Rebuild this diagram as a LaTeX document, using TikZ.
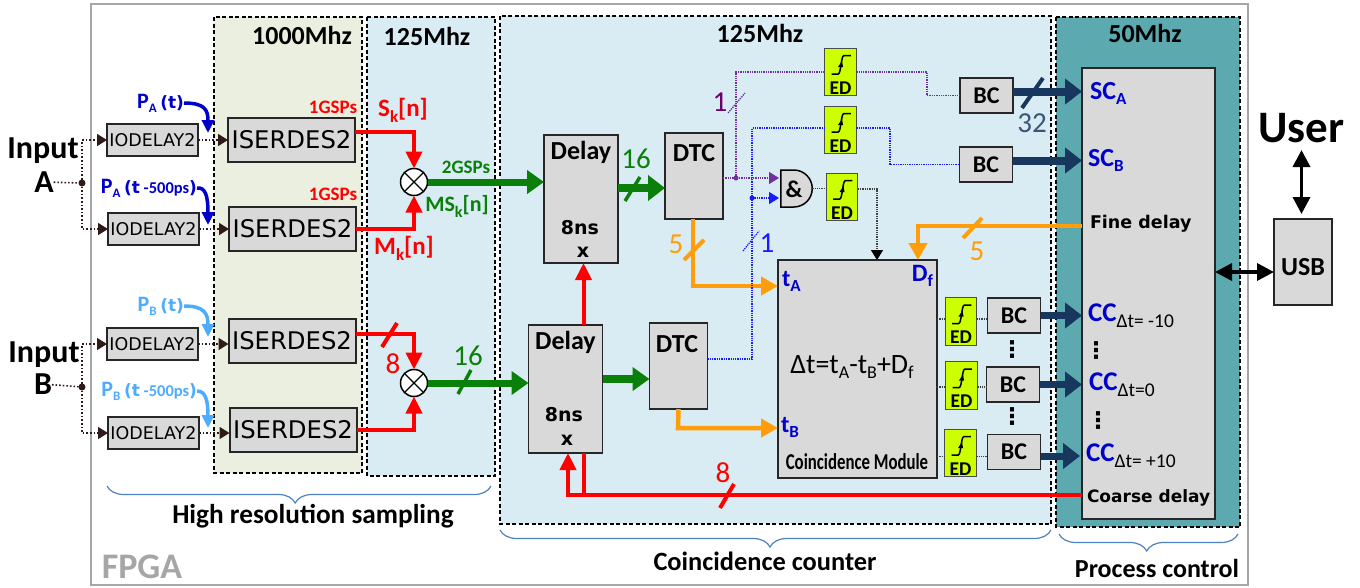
\documentclass[tikz,border=0pt]{standalone}
\usepackage{fontspec}
\usepackage{amsmath}
\usepackage{graphicx}
\setmainfont{Carlito}
\newfontfamily\vfont{DejaVu Sans}
\usetikzlibrary{arrows.meta,decorations.pathreplacing}
\newcommand{\fsz}[1]{\fontsize{#1}{#1}\selectfont}
\newcommand{\bsub}[2]{\textbf{#1}\raisebox{-5pt}{\fsz{17}\textbf{#2}}}
\newcommand{\lsub}[2]{#1\raisebox{-5pt}{\fsz{18}#2}}
\newcommand{\ccsub}[1]{\textcolor{txtblue}{\textbf{CC}}\raisebox{-6pt}{\fsz{19.5}#1}}
\newcommand{\edtxt}{\raisebox{-22pt}[0pt][0pt]{\fsz{19.5}\textbf{ED}}}
\newcommand{\edsym}[1]{\draw[edcurve,shift={(#1.center)}] (-9,2) -- (-2.3,2) .. controls (0.5,2) and (0.5,-16.3) .. (3.3,-16.3) -- (10.3,-16.3);
  \fill[black,shift={(#1.center)}] (-2.5,-5) -- (2.5,-5) -- (1.5,-11) -- cycle;}
\newcommand{\pulse}[3]{{\color{#1}\fsz{22}\textbf{P}\raisebox{-4pt}{\fsz{13}\textbf{#2}}\,{\vfont\fsz{17}\textbf{(t}}#3{\vfont\fsz{17}\textbf{)}}}}
\newcommand{\dotcol}{{\vfont\bfseries\fsz{23}⋮}}
\definecolor{zonea}{HTML}{EBEFDF}
\definecolor{zoneb}{HTML}{DAECF3}
\definecolor{zonec}{HTML}{5CA9B0}
\definecolor{boxgray}{HTML}{D9D9D9}
\definecolor{edlime}{HTML}{CCFF00}
\definecolor{fpgagray}{HTML}{A6A6A6}
\definecolor{sigred}{HTML}{FF0000}
\definecolor{siggreen}{HTML}{0A800A}
\definecolor{sigorange}{HTML}{FF9D0A}
\definecolor{signavy}{HTML}{17375E}
\definecolor{sigpurple}{HTML}{7030A0}
\definecolor{sigblue}{HTML}{1A1AFF}
\definecolor{txtblue}{HTML}{0000CC}
\definecolor{paleblue}{HTML}{4DACFF}
\definecolor{dotbrown}{HTML}{2F1A1A}
\definecolor{bracecol}{HTML}{4F81BD}

\begin{document}
\begin{tikzpicture}[x=1pt,y=-1pt,>=Triangle,node distance=139pt,
                    every node/.append style={inner sep=0pt,outer sep=0pt}]
  \useasboundingbox (0,0) rectangle (1360,587);
  \tikzstyle{panel}=[draw=black,line width=1.2pt,dash pattern=on 4pt off 2.5pt]
  \tikzstyle{graybox}=[draw=black!85,fill=boxgray,line width=1.5pt]
  \tikzstyle{ioblock}=[graybox,minimum width=91pt,minimum height=32pt,font=\vfont\fsz{17.5}]
  \tikzstyle{serblock}=[graybox,line width=2pt,minimum width=127pt,minimum height=44pt,font=\vfont\fsz{24.3}]
  \tikzstyle{delayblock}=[graybox,minimum width=74pt,minimum height=128pt]
  \tikzstyle{dtcblock}=[graybox,minimum width=58pt,minimum height=86pt]
  \tikzstyle{bcblock}=[graybox,minimum width=53pt,minimum height=35pt,font=\fsz{24}\bfseries]
  \tikzstyle{edblock}=[draw=black!70,fill=edlime,line width=1.3pt,minimum width=31.5pt,minimum height=47.5pt]
  \tikzstyle{edcurve}=[black,line width=1.5pt]
  \tikzstyle{mixer}=[circle,draw=black,fill=white,line width=1.5pt,minimum size=27pt,
                       path picture={\draw[black,line width=1.3pt,shift={(path picture bounding box.center)}]
                       (-10,-10) -- (10,10) (-10,10) -- (10,-10);}]
  \tikzstyle{dotdark}=[draw=dotbrown,line width=1.6pt,dotted]
  \tikzstyle{dotarrow}=[dotdark,-{Triangle[length=10pt,width=12pt]}]
  \tikzstyle{junction}=[circle,minimum size=7pt]
  \tikzstyle{redarrow}=[draw=sigred,line width=4pt,-{Triangle[length=17pt,width=16pt]},color=sigred]
  \tikzstyle{redline}=[draw=sigred,line width=4pt]
  \tikzstyle{greenarrow}=[draw=siggreen,line width=7pt,-{Triangle[length=17pt,width=23pt]},color=siggreen]
  \tikzstyle{greenline}=[draw=siggreen,line width=3.5pt]
  \tikzstyle{orangearrow}=[draw=sigorange,line width=4.5pt,-{Triangle[length=17pt,width=18pt]},color=sigorange]
  \tikzstyle{orangeline}=[draw=sigorange,line width=4pt]
  \tikzstyle{navyarrow}=[draw=signavy,line width=8pt,-{Triangle[length=17pt,width=25pt]},color=signavy]
  \tikzstyle{purpledots}=[draw=sigpurple,line width=1.3pt,densely dotted]
  \tikzstyle{bluedots}=[draw=sigblue,line width=1.3pt,densely dotted]
  \tikzstyle{greydots}=[draw=black!75,line width=1.3pt,densely dotted]
  \tikzstyle{dottip}=[-{Triangle[length=10pt,width=12pt]}]
  \tikzstyle{blackarrow}=[draw=black,fill=black,line width=3.5pt,{Triangle[length=17pt,width=17pt]}-{Triangle[length=17pt,width=17pt]}]
  \tikzstyle{bluecurve}=[draw=txtblue,line width=3.5pt,-{Triangle[length=13pt,width=12pt]},color=txtblue]
  \tikzstyle{palecurve}=[draw=paleblue,line width=3.5pt,-{Triangle[length=13pt,width=12pt]},color=paleblue]
  \tikzstyle{grouping}=[draw=bracecol,line width=1.2pt,decorate,decoration={brace,mirror,amplitude=17pt,aspect=0.49}]
  \tikzstyle{heading}=[font=\fsz{26}\bfseries]
  \tikzstyle{widthnum}=[font=\fsz{29}]

  \draw[fpgagray,line width=2.5pt] (91,4) rectangle (1248,585);
  \draw[panel,fill=zonea] (214,17) rectangle (362,473);
  \draw[panel,fill=zoneb] (367,17) rectangle (495,476);
  \draw[panel,fill=zoneb] (500,16) rectangle (1051,524);
  \draw[panel,fill=zonec] (1056,17) rectangle (1240,527);

  \node[heading] (hgsp) at (302,35) {1000Mhz};
  \node[heading] (hmixa) at (427,36) {125Mhz};
  \node[heading] (hcoin) at (760,33) {125Mhz};
  \node[heading] (hproc) at (1145,33) {50Mhz};
  \node[font=\fsz{36}\bfseries,text=fpgagray] (fpga) at (142,567) {FPGA};
  \node[font=\fsz{27.3}\bfseries] (hsamp) at (313,516) {High resolution sampling};
  \node[font=\fsz{26.4}\bfseries] (hcount) at (765,561) {Coincidence counter};
  \node[font=\fsz{26}\bfseries] (hctrl) at (1157,568) {Process control};

  \draw[grouping] (107,486) -- (491,486);
  \draw[grouping] (500,530) -- (1051,530);
  \draw[grouping] (1059,534) -- (1238,534);

  \node[font=\fsz{32}\bfseries] (inAt) at (43,151) {Input};
  \node[font=\fsz{32}\bfseries] (inA) at (44,182) {A};
  \node[font=\fsz{32}\bfseries] (inBt) at (44,355) {Input};
  \node[font=\fsz{32}\bfseries] (inB) at (43,384) {B};
  \node[junction,fill=dotbrown] (dotA) at (82,183) {};
  \node[junction,fill=dotbrown] (dotB) at (82,387) {};

  \node[ioblock] (ioA1) at (152.5,140) {IODELAY2};
  \node[ioblock] (ioA2) at (153.5,229) {IODELAY2};
  \node[ioblock] (ioB1) at (152.5,344) {IODELAY2};
  \node[ioblock] (ioB2) at (153.5,433) {IODELAY2};
  \node[serblock] (serA1) [right of=ioA1] {ISERDES2};
  \node[serblock] (serA2) [right of=ioA2] {ISERDES2};
  \node[serblock] (serB1) at (292,341) {ISERDES2};
  \node[serblock] (serB2) at (293,430) {ISERDES2};
  \node[mixer] (mulA) at (414,182) {};
  \node[mixer] (mulB) at (414,383) {};

  \node[delayblock] (delayA) at (581,199) {};
  \node[delayblock] (delayB) at (565.5,389) {};
  \node[dtcblock] (dtcA) at (694,176) {};
  \node[dtcblock] (dtcB) at (678.5,366) {};
  \node[font=\fsz{26}\bfseries] (delayAt) at (581,152) {Delay};
  \node[font=\fsz{26}\bfseries] (delayBt) at (565.5,342) {Delay};
  \node[font=\vfont\fsz{19}\bfseries] (nsA) at (580,228) {8ns};
  \node[font=\vfont\fsz{19}\bfseries] (nsB) at (564,415) {8ns};
  \node[font=\vfont\fsz{19}\bfseries] (xA) at (583,252) {x};
  \node[font=\vfont\fsz{19}\bfseries] (xB) at (567,440) {x};
  \node[font=\fsz{26}\bfseries] (dtcAt) at (694,153) {DTC};
  \node[font=\fsz{26}\bfseries] (dtcBt) at (677,344) {DTC};

  \node[edblock] (edA) at (840.5,72) {\edtxt}; \edsym{edA}
  \node[edblock] (edB) at (840.5,130) {\edtxt}; \edsym{edB}
  \node[edblock] (edC) at (842,197) {\edtxt}; \edsym{edC}
  \node[minimum width=31.5pt,minimum height=37pt] (andg) at (796.5,188.5) {};
  \draw[graybox,draw=black] (andg.north west) -- ++(13,0) arc (-90:90:18.5) -- (andg.south west) -- cycle;
  \node[font=\fsz{24}\bfseries] (andt) at (794,189) {\&};
  \node[bcblock] (bcA) at (986.5,95.5) {BC};
  \node[bcblock] (bcB) at (986,164.5) {BC};

  \node[graybox,minimum width=133pt,minimum height=451pt] (ctrl) at (1148.5,293.5) {};
  \node[graybox,minimum width=58pt,minimum height=86pt] (usb) at (1303,262) {};
  \node[font=\fsz{26}\bfseries] (usbt) at (1303,267) {USB};
  \node[font=\fsz{45}\bfseries] (user) at (1301.5,128) {User};

  \node[graybox,minimum width=159pt,minimum height=218pt] (coin) at (857.5,369) {};
  \node[edblock] (edD) at (961,321.5) {\edtxt}; \edsym{edD}
  \node[edblock] (edE) at (961.5,385.5) {\edtxt}; \edsym{edE}
  \node[edblock] (edF) at (960.5,453) {\edtxt}; \edsym{edF}
  \node[bcblock] (bcC) at (1014,315.5) {BC};
  \node[bcblock] (bcD) at (1013,384.5) {BC};
  \node[bcblock] (bcE) at (1014,452) {BC};

  \node[font=\fsz{28}] (dteq) at (852,367) {Δt=\lsub{t}{A}-\lsub{t}{B}+\lsub{D}{f}};
  \node[font=\fsz{16.8}\bfseries] (coinname) at (857,462) {\scalebox{1}[1.35]{Coincidence Module}};
  \node[text=txtblue,font=\fsz{24},anchor=west] (tA) at (782,281) {\bsub{t}{A}};
  \node[text=txtblue,font=\fsz{24},anchor=west] (tB) at (781,427) {\bsub{t}{B}};
  \node[text=txtblue,font=\fsz{25},anchor=east] (Df) at (933,276) {\bsub{D}{f}};

  \node[text=txtblue,font=\fsz{26},anchor=west] (scA) at (1090,93) {\bsub{SC}{A}};
  \node[text=txtblue,font=\fsz{26},anchor=west] (scB) at (1088,160) {\bsub{SC}{B}};
  \node[font=\vfont\fsz{17.5}\bfseries,anchor=west] (fine) at (1090,224) {Fine delay};
  \node[font=\vfont\fsz{17}\bfseries,anchor=west] (coarse) at (1087,498) {Coarse delay};
  \node[anchor=west,font=\fsz{27}] (ccA) at (1088,316) {\ccsub{Δt= -10}};
  \node[anchor=west,font=\fsz{27}] (ccB) at (1089,385) {\ccsub{Δt=0}};
  \node[anchor=west,font=\fsz{27}] (ccC) at (1086,456) {\ccsub{Δt= +10}};
  \node (vda) at (1012,350) {\dotcol};
  \node (vdb) at (1012,417) {\dotcol};
  \node (vdc) at (1096,351) {\dotcol};
  \node (vdd) at (1098,421) {\dotcol};

  \node[anchor=east] (pa) at (184,103) {\pulse{txtblue}{A}{}};
  \node[anchor=east] (pad) at (197,188) {\pulse{txtblue}{A}{\fsz{16.5}\textbf{ -500ps}}};
  \node[anchor=east] (pb) at (184,306) {\pulse{paleblue}{B}{}};
  \node[anchor=east] (pbd) at (197,391) {\pulse{paleblue}{B}{\fsz{16.5}\textbf{ -500ps}}};
  \coordinate (paend) at (208,133);
  \coordinate (padend) at (208,225);
  \coordinate (pbend) at (208,337);
  \coordinate (pbdend) at (208,428);

  \node[text=sigred,font=\fsz{19}\bfseries] (gspa) at (333,107) {1GSPs};
  \node[text=sigred,font=\fsz{19}\bfseries] (gspb) at (333,194) {1GSPs};
  \node[text=sigred,font=\fsz{25}\bfseries] (sk) at (403,110) {S\raisebox{-6pt}{\fsz{17}k}[n]};
  \node[text=sigred,font=\fsz{25}\bfseries] (mk) at (404,248) {M\raisebox{-6pt}{\fsz{17}k}[n]};
  \node[text=siggreen,font=\fsz{22}\bfseries] (msk) at (457,206) {MS\raisebox{-6pt}{\fsz{16}k}[n]};
  \node[text=siggreen,font=\fsz{19}\bfseries] (gspc) at (466,167) {2GSPs};

  \path (inA) edge[dotdark] (dotA)
        (inB) edge[dotdark] (dotB)
        (ioA1) edge[dotarrow] (serA1)
        (ioA2) edge[dotarrow] (serA2);
  \draw[dotarrow] (dotA) |- (ioA1.west);
  \draw[dotarrow] (dotA) |- (ioA2.west);
  \draw[dotarrow] (dotB) |- (ioB1.west);
  \draw[dotarrow] (dotB) |- (ioB2.west);
  \draw[dotarrow] (ioB1.east) -- (ioB1.east -| serB1.west);
  \draw[dotarrow] (ioB2.east) -- (ioB2.east -| serB2.west);
  \draw[bluecurve] (pa.east) .. controls (205,103) and (208,110) .. (paend);
  \draw[bluecurve] (pad.east) .. controls (205,187) and (208,195) .. (padend);
  \draw[palecurve] (pb.east) .. controls (205,306) and (208,314) .. (pbend);
  \draw[palecurve] (pbd.east) .. controls (205,391) and (208,399) .. (pbdend);

  \draw[redarrow] ([yshift=8pt]serA1.east) -| (mulA.north);
  \draw[redarrow] (serA2.east) -| (mulA.south);
  \draw[redarrow] ([yshift=7pt]serB1.east) -| (mulB.north);
  \draw[redarrow] (serB2.east) -| (mulB.south);
  \draw[redline] (382,347) -- (397,323);
  \node[widthnum,text=sigred] (wred) at (393,364) {8};

  \draw[greenarrow] (mulA.east) -- (mulA.east -| delayA.west);
  \draw[greenarrow] (mulB.east) -- (mulB.east -| delayB.west);
  \draw[greenline] (458,394) -- (471,370);
  \node[widthnum,text=siggreen] (wgreenb) at (468,356) {16};
  \draw[greenarrow,line width=8pt,-{Triangle[length=17pt,width=25pt]}] ([yshift=11pt]delayA.east) -- ([yshift=-12pt]dtcA.west);
  \draw[greenline] (625,201) -- (640,177);
  \node[widthnum,text=siggreen] (wgreena) at (636,159) {16};
  \draw[greenarrow,line width=8pt,-{Triangle[length=17pt,width=23pt]}] ([yshift=10pt]delayB.east) -- ([yshift=-13pt]dtcB.west);

  \draw[redarrow] ([xshift=18pt]delayB.north) -- ([xshift=18pt]delayB.north |- delayA.south);
  \coordinate (fbup) at (584,495);
  \coordinate (fbin) at (568,495);
  \draw[redline] (ctrl.west |- fbup) -- (fbup) -- (fbup |- delayB.south);
  \draw[redarrow] (fbup) -- (fbin) -- (fbin |- delayB.south);
  \draw[redline] (720,508) -- (734,484);
  \node[widthnum,text=sigred] (wredb) at (723,473) {8};

  \coordinate (tAbend) at (693,286);
  \coordinate (tBbend) at (678,428);
  \coordinate (finebend) at (918,226);
  \draw[orangearrow] (tAbend |- dtcA.south) -- (tAbend) -- (tAbend -| coin.west);
  \draw[orangearrow] (dtcB.south) -- (tBbend) -- (tBbend -| coin.west);
  \draw[orangearrow] (finebend -| ctrl.west) -- (finebend) -- (finebend |- coin.north);
  \draw[orangeline] (684,260) -- (704,240);
  \draw[orangeline] (963,238) -- (982,218);
  \node[widthnum,text=sigorange] (worga) at (676,244) {5};
  \node[widthnum,text=sigorange] (worgb) at (977,251) {5};

  \coordinate (jpurple) at (736,178);
  \coordinate (jblue) at (752,198);
  \coordinate (andinA) at (779,178);
  \coordinate (andinB) at (779,198);
  \coordinate (bluebot) at (752,359);
  \coordinate (purpletop) at (736,72);
  \coordinate (bluetop) at (752,128);
  \coordinate (purplebend) at (927,72);
  \coordinate (bluebend) at (890,128);
  \coordinate (blackbend) at (877,189);
  \fill[sigpurple] (jpurple) circle (2.5pt);
  \fill[sigblue] (jblue) circle (2.5pt);
  \draw[purpledots,dottip,color=sigpurple] (dtcA.east |- jpurple) -- (andinA);
  \draw[purpledots] (jpurple) -- (purpletop) -- (edA.west);
  \draw[purpledots] (edA.east) -- (purplebend) |- (bcA.west);
  \draw[purpledots] (728,113) -- (745,93);
  \node[widthnum,text=violet!85!black] (wpur) at (720,102) {1};
  \draw[bluedots] (dtcB.east |- bluebot) -- (bluebot) -- (bluetop) -- (edB.west |- bluetop);
  \draw[bluedots] (edB.east |- bluebend) -- (bluebend) |- (bcB.west);
  \draw[bluedots,dottip,color=sigblue] (jblue) -- (andinB);
  \draw[bluedots] (743,251) -- (759,231);
  \node[widthnum,text=sigblue] (wblu) at (767,243) {1};

  \draw[greydots] (andg.east) -- (edC.west |- andg.east);
  \draw[greydots,-{Triangle[length=10pt,width=12pt,black]}] (edC.east |- blackbend) -- (blackbend) -- (blackbend |- coin.north);
  \coordinate (lnD) at (941,319);
  \coordinate (lnE) at (941,387);
  \coordinate (lnF) at (941,456.5);
  \path (coin.east |- lnD) edge[greydots] (edD.west |- lnD)
        (coin.east |- lnE) edge[greydots] (edE.west |- lnE)
        (coin.east |- lnF) edge[greydots] (edF.west |- lnF)
        (edD.east |- lnD) edge[greydots] (bcC.west |- lnD)
        (edE.east |- lnE) edge[greydots] (bcD.west |- lnE)
        (edF.east |- lnF) edge[greydots] (bcE.west |- lnF);

  \draw[navyarrow] ([yshift=4pt]bcA.east) -- ([yshift=4pt]bcA.east -| ctrl.west);
  \draw[navyarrow] ([yshift=4pt]bcB.east) -- ([yshift=4pt]bcB.east -| ctrl.west);
  \draw[navyarrow,line width=7pt] (bcC.east) -- (bcC.east -| ctrl.west);
  \draw[navyarrow,line width=7pt] (bcD.east) -- (bcD.east -| ctrl.west);
  \draw[navyarrow,line width=7pt] ([yshift=-4pt]bcE.east) -- ([yshift=-4pt,xshift=-2pt]bcE.east -| ctrl.west);
  \draw[signavy,line width=4pt] (1022,108) -- (1043,78);
  \node[widthnum,text=signavy!85!white] (wnavy) at (1032,123) {32};

  \coordinate (usblink) at (1245,272);
  \coordinate (userend) at (1301.5,150);
  \draw[blackarrow] (ctrl.east |- usblink) -- (usb.west |- usblink);
  \draw[blackarrow,shorten >=5pt] (userend) -- (userend |- usb.north);
\end{tikzpicture}
\end{document}
